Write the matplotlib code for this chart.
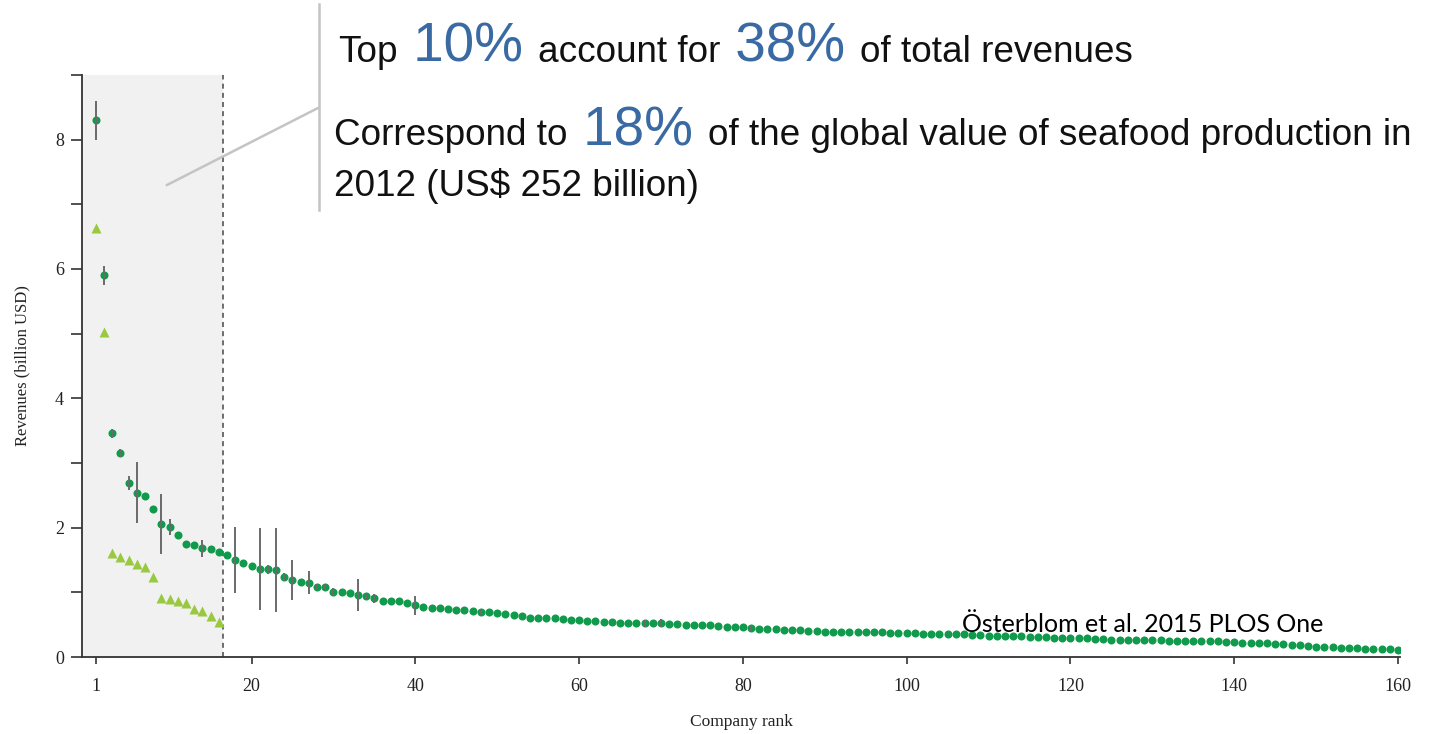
import matplotlib
matplotlib.use("Agg")
import matplotlib.pyplot as plt
from matplotlib.lines import Line2D
import numpy as np

# revenues by company rank (billion USD)
revenue = [
    8.30, 5.90, 3.46, 3.16, 2.69, 2.54, 2.49, 2.29, 2.06, 2.01,
    1.89, 1.75, 1.73, 1.68, 1.67, 1.62, 1.57, 1.50, 1.45, 1.41,
    1.36, 1.36, 1.35, 1.24, 1.19, 1.16, 1.15, 1.08, 1.08, 1.01,
    1.00, 0.99, 0.96, 0.94, 0.91, 0.87, 0.87, 0.86, 0.83, 0.80,
    0.78, 0.76, 0.76, 0.75, 0.73, 0.72, 0.71, 0.70, 0.69, 0.68,
    0.66, 0.65, 0.63, 0.61, 0.61, 0.60, 0.60, 0.58, 0.57, 0.57,
    0.56, 0.55, 0.54, 0.54, 0.53, 0.53, 0.53, 0.52, 0.52, 0.52,
    0.51, 0.51, 0.50, 0.50, 0.50, 0.49, 0.48, 0.47, 0.47, 0.46,
    0.45, 0.43, 0.43, 0.43, 0.42, 0.42, 0.41, 0.40, 0.40, 0.39,
    0.39, 0.39, 0.39, 0.38, 0.38, 0.38, 0.38, 0.37, 0.37, 0.37,
    0.37, 0.36, 0.36, 0.36, 0.35, 0.35, 0.35, 0.34, 0.34, 0.33,
    0.33, 0.32, 0.32, 0.32, 0.31, 0.31, 0.31, 0.30, 0.30, 0.30,
    0.29, 0.29, 0.28, 0.28, 0.27, 0.27, 0.27, 0.26, 0.26, 0.26,
    0.26, 0.25, 0.25, 0.25, 0.24, 0.24, 0.24, 0.24, 0.23, 0.23,
    0.22, 0.22, 0.21, 0.21, 0.20, 0.20, 0.19, 0.18, 0.17, 0.16,
    0.15, 0.15, 0.14, 0.14, 0.14, 0.13, 0.13, 0.12, 0.12, 0.11,
]
rank = np.arange(1, len(revenue) + 1)

# second estimate for the top 16 companies
top_revenue = [6.64, 5.03, 1.61, 1.55, 1.50, 1.44, 1.39, 1.23,
               0.91, 0.89, 0.87, 0.83, 0.75, 0.71, 0.63, 0.54]
top_rank = np.arange(1, len(top_revenue) + 1)

# ranks with an uncertainty range and its half width
err_rank = [1, 2, 3, 4, 5, 6, 9, 10, 14, 18, 21, 22, 23, 24, 25, 27,
            28, 29, 30, 33, 34, 35, 40, 48, 68, 70, 81]
err_half = [0.30, 0.14, 0.07, 0.06, 0.11, 0.47, 0.46, 0.13, 0.13, 0.51,
            0.63, 0.07, 0.65, 0.06, 0.31, 0.18, 0.05, 0.05, 0.05, 0.25,
            0.05, 0.07, 0.15, 0.05, 0.05, 0.06, 0.05]

n_top = 16
x_ticks = [1, 20, 40, 60, 80, 100, 120, 140, 160]

W, H = 1430, 734
fig = plt.figure(figsize=(W / 100, H / 100), dpi=100)
ax = fig.add_axes([82 / W, 1 - 657 / H, (1400 - 82) / W, (657 - 75) / H])

ax.axvspan(-0.7, n_top + 0.5, color="#f1f1f1", lw=0, zorder=0)
ax.axvline(n_top + 0.5, color="#555555", ls=(0, (3, 2.5)), lw=1.2, zorder=1)

ax.plot(top_rank, top_revenue, ls="none", marker="^", ms=6.5,
        color="#98c93f", mec="none", zorder=3)
ax.plot(rank, revenue, ls="none", marker="o", ms=5.8,
        color="#109a4b", mec="none", zorder=3)
err_y = [revenue[r - 1] for r in err_rank]
ax.errorbar(err_rank, err_y, yerr=err_half, fmt="none", ecolor="#6a6a6a",
            elinewidth=1.4, capsize=0, zorder=4)

ax.set_xlim(-0.7, 160.24)
ax.set_ylim(0, 9)
ax.set_xticks(x_ticks)
ax.set_yticks([0, 2, 4, 6, 8])
ax.set_yticks(np.arange(1, 10, 2), minor=True)
for s in ["top", "right"]:
    ax.spines[s].set_visible(False)
for s in ["left", "bottom"]:
    ax.spines[s].set_color("#333333")
    ax.spines[s].set_linewidth(1.3)
ax.tick_params(axis="both", which="both", direction="out", width=1.2,
               color="#333333", labelsize=13, labelcolor="#222222")
ax.tick_params(axis="y", which="both", length=8, pad=5)
ax.tick_params(axis="x", length=5, pad=10)
for lab in ax.get_xticklabels() + ax.get_yticklabels():
    lab.set_fontfamily("Liberation Serif")
ax.set_xlabel("Company rank", family="Liberation Serif", fontsize=12.5,
              color="#222222", labelpad=14)
ax.set_ylabel("Revenues (billion USD)", family="Liberation Serif",
              fontsize=12, color="#222222", labelpad=18)

# callout lines
fig.add_artist(Line2D([319 / W, 319 / W], [1 - 4 / H, 1 - 210 / H],
                      color="#c4c4c4", lw=1.8))
fig.add_artist(Line2D([167 / W, 318 / W], [1 - 185 / H, 1 - 108 / H],
                      color="#c4c4c4", lw=1.8))

renderer = fig.canvas.get_renderer()
black = "#111111"
blue = "#3a6aa3"
small, big = 26.6, 39.5


def text_run(x, y, parts):
    # lay out pieces of one line left to right, in figure pixels
    for txt, size, col in parts:
        t = fig.text(x / W, 1 - y / H, txt, fontsize=size, color=col,
                     family="Liberation Sans", va="baseline", ha="left")
        x = t.get_window_extent(renderer).x1


text_run(338, 62, [("Top", small, black), (" 10% ", big, blue),
                   ("account for", small, black), (" 38% ", big, blue),
                   ("of total revenues", small, black)])
text_run(334, 145, [("Correspond to", small, black), (" 18% ", big, blue),
                    ("of the global value of seafood production in", small, black)])
text_run(334, 196, [("2012 (US$ 252 billion)", small, black)])

fig.text(962 / W, 1 - 632 / H, "Österblom et al. 2015 PLOS One",
         family="Lato", fontsize=18, color="#000000", va="baseline")

fig.savefig("out.png", dpi=100)
